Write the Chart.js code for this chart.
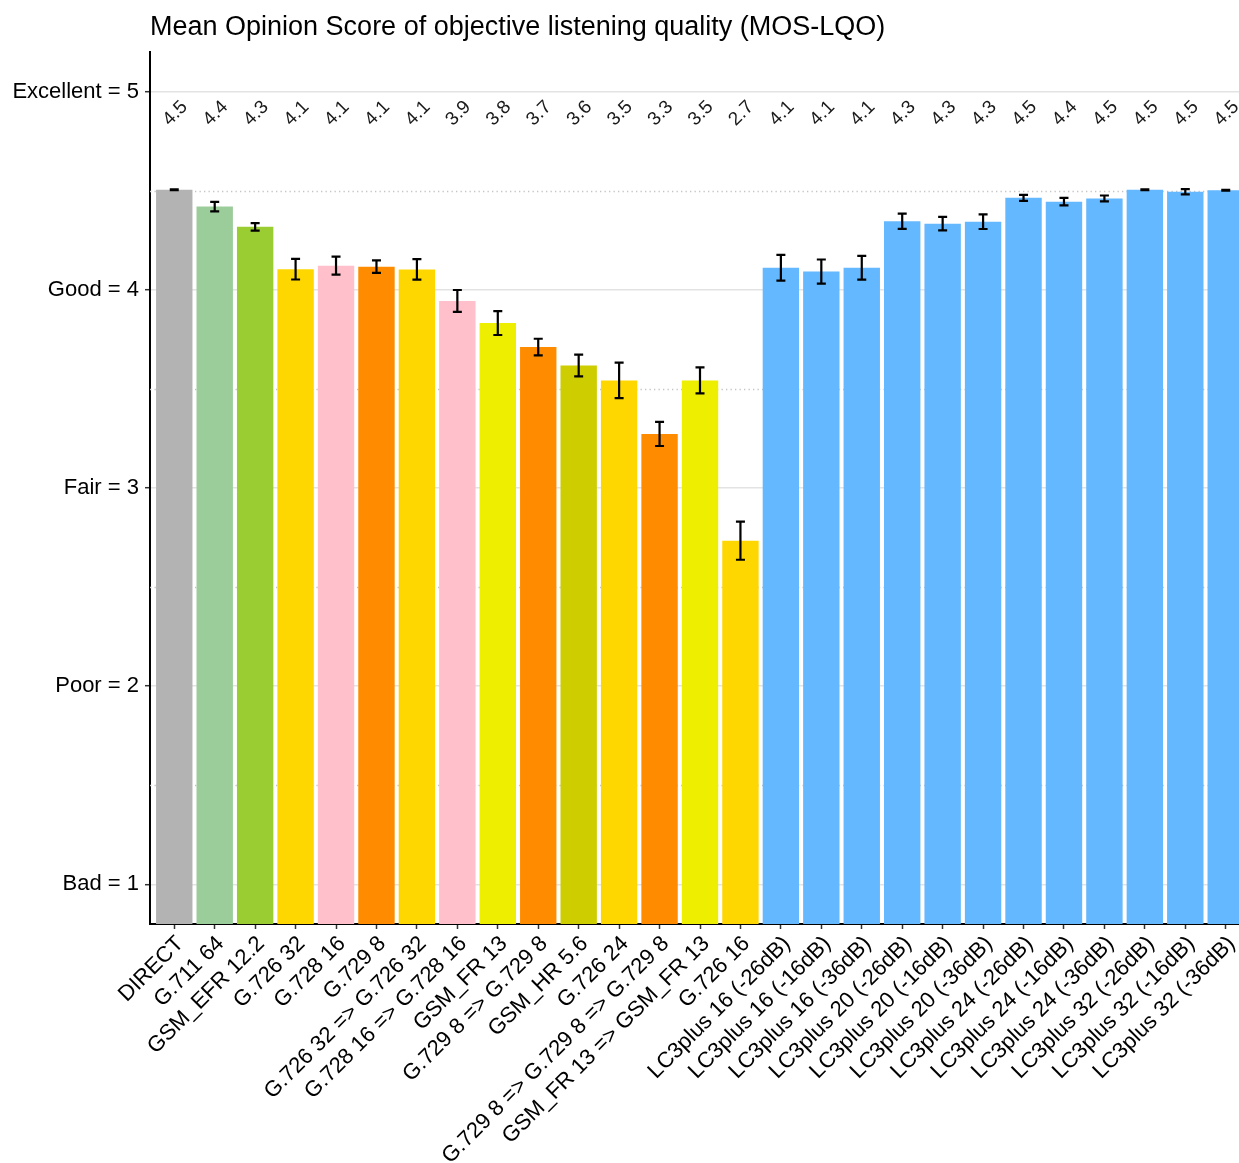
<!DOCTYPE html>
<html>
<head>
<meta charset="utf-8">
<title>MOS-LQO</title>
<script src="https://cdn.jsdelivr.net/npm/chart.js@4.4.0/dist/chart.umd.min.js"></script>
<style>
  html, body { margin: 0; padding: 0; background: #fff; overflow: hidden; }
  #chart { display: block; }
</style>
</head>
<body>
<canvas id="chart" width="1250" height="1163"></canvas>
<script>
'use strict';

const codecs = [
  'DIRECT', 'G.711 64', 'GSM_EFR 12.2', 'G.726 32', 'G.728 16', 'G.729 8',
  'G.726 32 => G.726 32', 'G.728 16 => G.728 16', 'GSM_FR 13',
  'G.729 8 => G.729 8', 'GSM_HR 5.6', 'G.726 24',
  'G.729 8 => G.729 8 => G.729 8', 'GSM_FR 13 => GSM_FR 13', 'G.726 16',
  'LC3plus 16 (-26dB)', 'LC3plus 16 (-16dB)', 'LC3plus 16 (-36dB)',
  'LC3plus 20 (-26dB)', 'LC3plus 20 (-16dB)', 'LC3plus 20 (-36dB)',
  'LC3plus 24 (-26dB)', 'LC3plus 24 (-16dB)', 'LC3plus 24 (-36dB)',
  'LC3plus 32 (-26dB)', 'LC3plus 32 (-16dB)', 'LC3plus 32 (-36dB)'
];
const mosMean = [
  4.505, 4.42, 4.318, 4.104, 4.122, 4.117,
  4.103, 3.944, 3.832,
  3.711, 3.618, 3.543,
  3.273, 3.543, 2.734,
  4.111, 4.092, 4.111,
  4.346, 4.334, 4.344,
  4.464, 4.445, 4.461,
  4.505, 4.495, 4.503
];
// half width of the confidence interval drawn as error bar
const mosError = [
  0.002, 0.024, 0.019, 0.052, 0.045, 0.032,
  0.052, 0.055, 0.06,
  0.042, 0.055, 0.09,
  0.061, 0.066, 0.096,
  0.065, 0.061, 0.06,
  0.038, 0.034, 0.037,
  0.015, 0.019, 0.015,
  0.002, 0.013, 0.002
];
const scoreTicks = [1, 2, 3, 4, 5];
const scoreNames = ['Bad', 'Poor', 'Fair', 'Good', 'Excellent'];
const halfTicks = [1.5, 2.5, 3.5, 4.5];

const grey = '#b3b3b3', seaGreen = '#9bcd9b', yellowGreen = '#9acd32',
  gold = '#ffd700', pink = '#ffc0cb', orange = '#ff8c00',
  yellow2 = '#eeee00', yellow3 = '#cdcd00', lc3Blue = '#63b8ff';
const barColors = [
  grey, seaGreen, yellowGreen, gold, pink, orange,
  gold, pink, yellow2,
  orange, yellow3, gold,
  orange, yellow2, gold
];
while (barColors.length < codecs.length) barColors.push(lc3Blue);

const FONT = "'Liberation Sans', Arial, Helvetica, sans-serif";

// dotted guide lines at the half scores, under the bars
const halfLines = {
  id: 'halfLines',
  beforeDatasetsDraw(chart) {
    const {ctx, chartArea, scales: {y}} = chart;
    ctx.save();
    ctx.strokeStyle = '#c4c4c4';
    ctx.lineWidth = 1.3;
    ctx.setLineDash([1.3, 3.2]);
    halfTicks.forEach(v => {
      const py = Math.round(y.getPixelForValue(v)) + 0.5;
      ctx.beginPath();
      ctx.moveTo(chartArea.left, py);
      ctx.lineTo(chartArea.right, py);
      ctx.stroke();
    });
    ctx.restore();
  }
};

// error bars and the rounded value printed above each bar
const barExtras = {
  id: 'barExtras',
  afterDatasetsDraw(chart) {
    const {ctx, scales: {y}} = chart;
    const bars = chart.getDatasetMeta(0).data;
    ctx.save();
    ctx.strokeStyle = '#000';
    ctx.lineWidth = 2.2;
    bars.forEach((bar, i) => {
      const hi = y.getPixelForValue(mosMean[i] + mosError[i]);
      const lo = y.getPixelForValue(mosMean[i] - mosError[i]);
      const cap = 4.5;
      ctx.beginPath();
      ctx.moveTo(bar.x, hi); ctx.lineTo(bar.x, lo);
      ctx.moveTo(bar.x - cap, hi); ctx.lineTo(bar.x + cap, hi);
      ctx.moveTo(bar.x - cap, lo); ctx.lineTo(bar.x + cap, lo);
      ctx.stroke();
    });
    ctx.fillStyle = '#1a1a1a';
    ctx.font = '19px ' + FONT;
    ctx.textAlign = 'center';
    ctx.textBaseline = 'middle';
    const ly = y.getPixelForValue(4.89);
    bars.forEach((bar, i) => {
      ctx.save();
      ctx.translate(bar.x + 1, ly);
      ctx.rotate(-Math.PI / 4);
      ctx.fillText(mosMean[i].toFixed(1), 0, 0);
      ctx.restore();
    });
    ctx.restore();
  }
};

new Chart(document.getElementById('chart'), {
  type: 'bar',
  data: {
    labels: codecs,
    datasets: [{
      data: mosMean,
      backgroundColor: barColors,
      borderWidth: 0,
      categoryPercentage: 0.9,
      barPercentage: 1
    }]
  },
  options: {
    responsive: false,
    animation: false,
    layout: {padding: 0},
    plugins: {
      legend: {display: false},
      tooltip: {enabled: false},
      title: {
        display: true,
        text: 'Mean Opinion Score of objective listening quality (MOS-LQO)',
        align: 'start',
        fullSize: false,
        color: '#000',
        font: {family: FONT, size: 27, weight: 'normal', lineHeight: 1.2},
        padding: {top: 11, bottom: 8.6}
      }
    },
    scales: {
      x: {
        type: 'category',
        offset: true,
        afterBuildTicks(scale) {
          // widen the side margins to 0.6 of a category
          scale._startValue = -0.6;
          scale._valueRange = codecs.length - 1 + 1.2;
        },
        afterFit(scale) { scale.height = 239; },
        border: {display: true, color: '#000', width: 2},
        grid: {
          display: true, drawOnChartArea: false, offset: false,
          drawTicks: true, tickLength: 5, tickColor: '#333', tickWidth: 1.5
        },
        ticks: {
          autoSkip: false, minRotation: 45, maxRotation: 45, padding: 2,
          labelOffset: 6,
          color: '#000', font: {family: FONT, size: 22}
        }
      },
      y: {
        min: 0.8,
        max: 5.2,
        afterBuildTicks(scale) {
          scale.ticks = scoreTicks.map(v => ({value: v}));
        },
        afterFit(scale) { scale.width = 150; },
        border: {display: true, color: '#000', width: 2},
        grid: {
          color: '#e3e3e3', lineWidth: 1.4,
          drawTicks: true, tickLength: 5, tickColor: '#333', tickWidth: 1.5
        },
        ticks: {
          padding: 6, color: '#000', font: {family: FONT, size: 22},
          callback: v => scoreNames[scoreTicks.indexOf(v)] + ' = ' + v
        }
      }
    }
  },
  plugins: [halfLines, barExtras]
});
</script>
</body>
</html>
